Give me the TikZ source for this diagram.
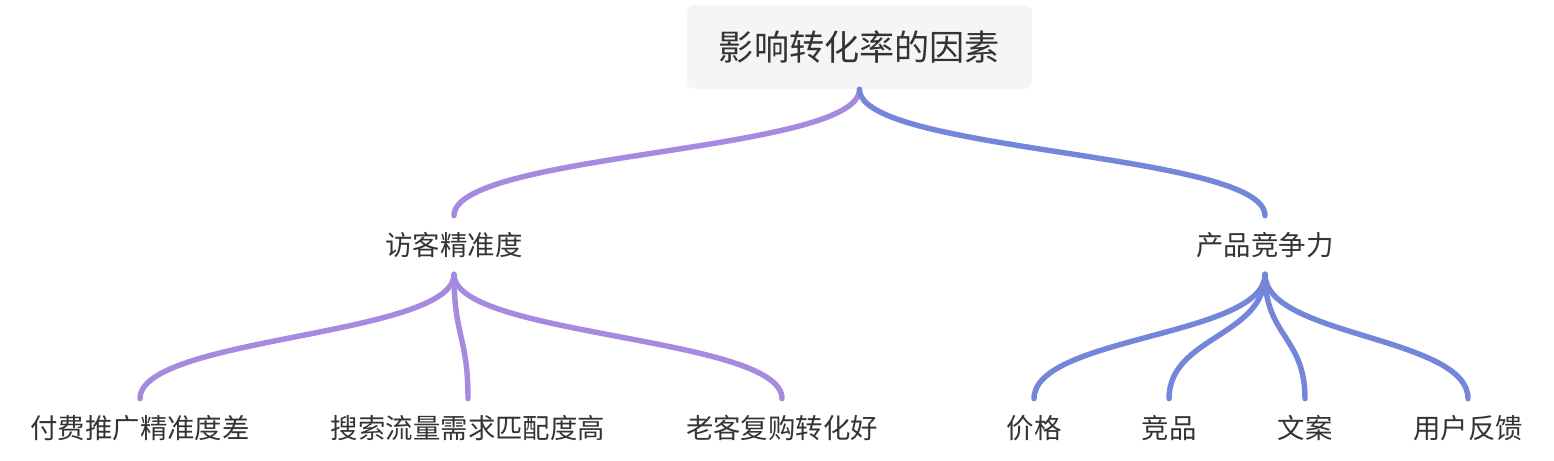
\documentclass[tikz,border=0pt]{standalone}
\usepackage{fontspec}
\newfontfamily\cjk{Noto Sans CJK SC}
\definecolor{visitorcol}{RGB}{166,138,224}
\definecolor{productcol}{RGB}{115,134,218}
\definecolor{rootfill}{RGB}{245,245,245}
\definecolor{ink}{RGB}{51,51,51}
\tikzset{
  rootbox/.style = {fill = rootfill, rounded corners = 0.14cm, text = ink,
    minimum width = 6.9cm, minimum height = 1.68cm,
    font = \cjk\fontsize{20}{24}\selectfont},
  topic/.style = {text = ink, inner sep = 0pt, minimum height = 1.16cm,
    font = \cjk\fontsize{15.6}{19}\selectfont},
  branch/.style = {line width = 3.1pt, line cap = round}
}
\begin{document}
\begin{tikzpicture}[x = 0.02cm, y = -0.02cm]
        \useasboundingbox (0,0) rectangle (1554,460);
        \node[rootbox] (root) at (859.5,47) {影响转化率的因素};
        \node[topic] (visitor) at (454,245) {访客精准度};
        \node[topic] (product) at (1265,245) {产品竞争力};
        \node[topic] (paid) at (140,428) {付费推广精准度差};
        \node[topic] (search) at (468,428) {搜索流量需求匹配度高};
        \node[topic] (repeat) at (782,428) {老客复购转化好};
        \node[topic] (price) at (1034,428) {价格};
        \node[topic] (rival) at (1169,428) {竞品};
        \node[topic] (copy) at (1305,428) {文案};
        \node[topic] (feedback) at (1468,428) {用户反馈};
        \foreach \a/\b/\c in {root/visitor/visitorcol, root/product/productcol,
          visitor/paid/visitorcol, visitor/search/visitorcol, visitor/repeat/visitorcol,
          product/price/productcol, product/rival/productcol,
          product/copy/productcol, product/feedback/productcol}{
        \path (\a.south) -- (\b.north) coordinate[pos = 0.5] (mid);
        \draw[branch, \c] (\a.south) .. controls (\a.south |- mid) and (\b.north |- mid) .. (\b.north);
        }
    \end{tikzpicture}
\end{document}
